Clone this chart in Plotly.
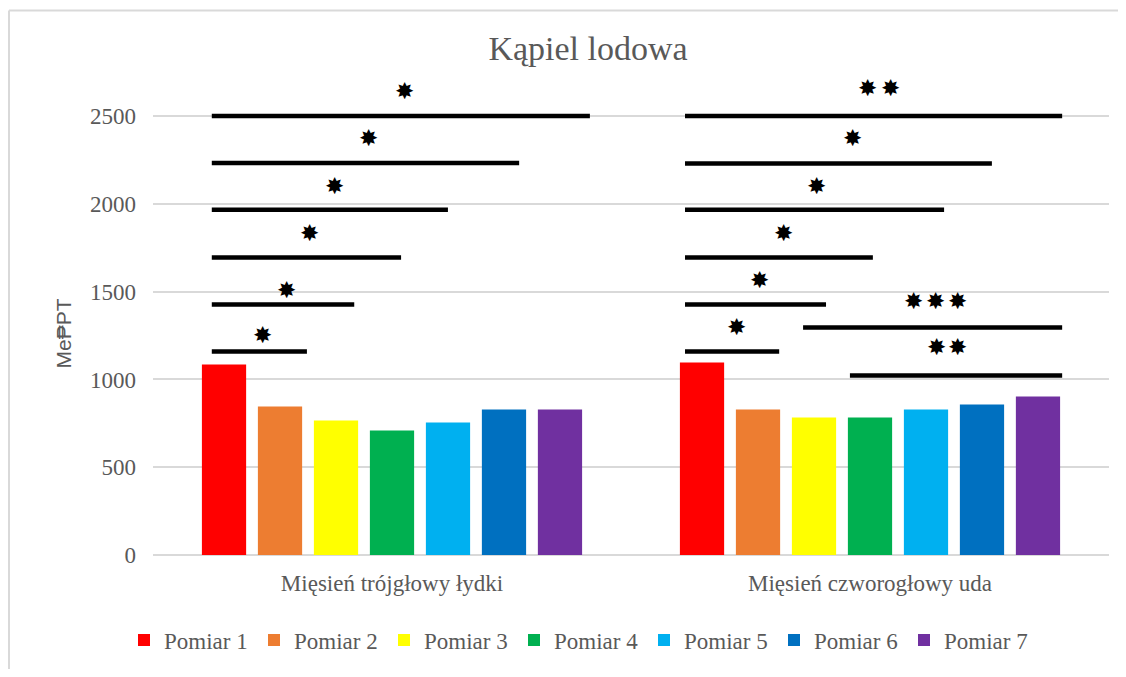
import plotly.graph_objects as go

categories = ["Mięsień trójgłowy łydki", "Mięsień czworogłowy uda"]
series_names = ["Pomiar 1", "Pomiar 2", "Pomiar 3", "Pomiar 4", "Pomiar 5", "Pomiar 6", "Pomiar 7"]
series_colors = ["#FF0000", "#ED7D31", "#FFFF00", "#00B050", "#00B0F0", "#0070C0", "#7030A0"]
values = [
    [1085, 1096],
    [846, 829],
    [766, 783],
    [709, 783],
    [755, 829],
    [829, 857],
    [829, 903],
]

# significance brackets (x in category units: 0 = first category, 1 = second)
sig_x0 = [-0.377, -0.377, -0.377, -0.377, -0.377, -0.377,
          0.613, 0.613, 0.613, 0.613, 0.613, 0.613, 0.860, 0.958]
sig_x1 = [-0.178, -0.079, 0.019, 0.117, 0.266, 0.414,
          0.810, 0.908, 1.006, 1.155, 1.255, 1.402, 1.402, 1.402]
sig_y = [1159, 1427, 1694, 1967, 2233, 2500,
         1159, 1427, 1694, 1967, 2230, 2500, 1296, 1022]

# significance stars
star_x = [-0.270, -0.220, -0.172, -0.121, -0.050, 0.027,
          0.720, 0.768, 0.818, 0.889, 0.964, 0.994, 1.042,
          1.092, 1.136, 1.184, 1.140, 1.184]
star_y = [1256, 1512, 1837, 2104, 2378, 2645,
          1301, 1569, 1837, 2104, 2378, 2662, 2662,
          1449, 1449, 1449, 1182, 1182]

y_ticks = [0, 500, 1000, 1500, 2000, 2500]

GRAY = "#595959"
SERIF = "Liberation Serif, Times New Roman, serif"

# figure geometry (page has an 8px body margin; keep the page from overflowing)
W, H = 1110, 661
ML, MR, MT, MB = 145, 9, 73.4, 113.5
PW, PH = W - ML - MR, H - MT - MB


def px_to_paper(px, py):
    return (px - ML) / PW, (H - MB - py) / PH


fig = go.Figure()
for name, color, vals in zip(series_names, series_colors, values):
    fig.add_trace(go.Bar(x=categories, y=vals, name=name, marker=dict(color=color, line=dict(width=0)),
                         hoverinfo="skip"))

shapes = []
for x0, x1, y in zip(sig_x0, sig_x1, sig_y):
    shapes.append(dict(type="line", xref="x", yref="y", x0=x0, x1=x1, y0=y, y1=y,
                       line=dict(color="black", width=4.5), layer="above"))
# chart frame (left and top edges only are visible)
fx0, fy0 = px_to_paper(1, 3)
fx1, fy1 = px_to_paper(W + 20, H + 20)
shapes.append(dict(type="line", xref="paper", yref="paper", x0=fx0, x1=fx0, y0=fy1, y1=fy0,
                   line=dict(color="#D9D9D9", width=2), layer="below"))
shapes.append(dict(type="line", xref="paper", yref="paper", x0=fx0, x1=fx1, y0=fy0, y1=fy0,
                   line=dict(color="#D9D9D9", width=2), layer="below"))

annotations = []
for x, y in zip(star_x, star_y):
    annotations.append(dict(x=x, y=y, xref="x", yref="y", text="✸", showarrow=False,
                            font=dict(family="DejaVu Sans", size=23, color="black"),
                            xanchor="center", yanchor="middle"))
lx, ly = px_to_paper(56, 326)
annotations.append(dict(x=lx, y=ly, xref="paper", yref="paper", text="Me₱PT", showarrow=False,
                        textangle=-90, font=dict(family="Liberation Sans, Arial", size=21, color=GRAY),
                        xanchor="center", yanchor="middle"))

fig.update_layout(
    width=W, height=H,
    margin=dict(l=ML, r=MR, t=MT, b=MB),
    paper_bgcolor="white", plot_bgcolor="white",
    barmode="group", bargap=0.18, bargroupgap=0.21,
    title=dict(text="Kąpiel lodowa", x=580 / W, xref="container", y=1 - 40 / H, yref="container",
               xanchor="center", yanchor="middle",
               font=dict(family=SERIF, size=34, color=GRAY)),
    xaxis=dict(type="category", showgrid=False, showline=False, zeroline=False,
               tickfont=dict(family=SERIF, size=23, color=GRAY), ticks="", ticklabelstandoff=12,
               range=[-0.5, 1.5]),
    yaxis=dict(range=[0, 2700], tickvals=y_ticks, showgrid=True, gridcolor="#D9D9D9", gridwidth=1.5,
               zeroline=True, zerolinecolor="#D9D9D9", zerolinewidth=1.5, showline=False,
               tickfont=dict(family=SERIF, size=23, color=GRAY), ticks="", ticklabelstandoff=16),
    legend=dict(orientation="h", x=116 / W, xref="container", xanchor="left",
                y=1 - 632 / H, yref="container", yanchor="middle",
                entrywidth=85, entrywidthmode="pixels", traceorder="normal",
                font=dict(family=SERIF, size=23, color=GRAY), itemclick=False, itemdoubleclick=False),
    shapes=shapes,
    annotations=annotations,
    showlegend=True,
)

fig.write_html("out.html")
